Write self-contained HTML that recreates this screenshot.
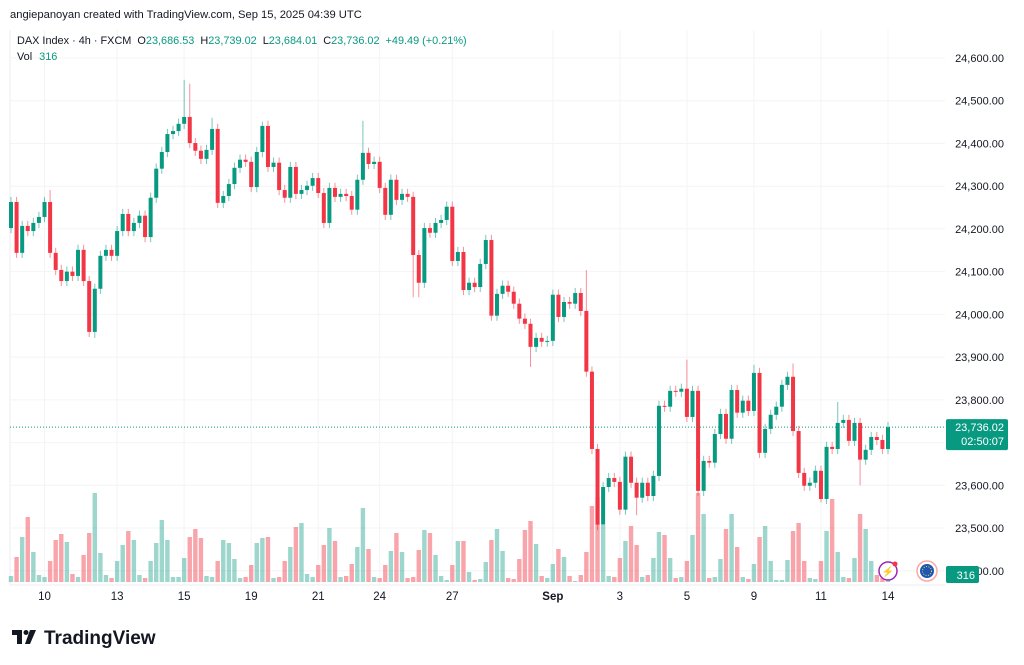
<!DOCTYPE html>
<html><head><meta charset="utf-8">
<style>
html,body{margin:0;padding:0;background:#fff;width:1024px;height:665px;overflow:hidden;font-family:"Liberation Sans",sans-serif;}
svg{position:absolute;left:0;top:0}
</style></head>
<body>
<svg id="chart" width="1024" height="665"></svg>
<script>
const closes=[24263,24144,24207,24195,24214,24228,24263,24144,24104,24078,24100,24090,24151,24078,23959,24060,24137,24151,24137,24195,24235,24195,24214,24231,24181,24273,24341,24380,24422,24429,24446,24462,24401,24383,24364,24385,24434,24261,24277,24305,24343,24362,24357,24298,24380,24441,24345,24355,24291,24273,24345,24282,24291,24301,24319,24284,24214,24296,24275,24282,24277,24245,24315,24378,24352,24357,24296,24233,24315,24268,24282,24275,24139,24074,24202,24191,24214,24221,24252,24125,24146,24057,24074,24064,24118,24174,23997,24048,24067,24053,24025,23990,23978,23924,23945,23936,23938,24046,23994,24029,24025,24050,24008,23866,23685,23508,23596,23617,23608,23543,23667,23606,23571,23606,23575,23622,23786,23784,23821,23819,23826,23760,23821,23587,23657,23653,23720,23767,23709,23823,23770,23798,23774,23863,23676,23732,23765,23784,23835,23854,23727,23629,23599,23606,23634,23568,23690,23685,23746,23753,23704,23746,23660,23683,23713,23706,23685,23736];
const opens=[24202].concat(closes.slice(0,-1));
const volumes=[6,25,45,65,30,7,5,21,42,48,40,8,5,27,49,89,29,7,4,21,37,51,42,7,4,21,39,62,42,5,5,24,45,53,44,6,5,21,42,39,23,4,5,17,39,44,45,4,5,21,35,55,59,8,5,17,37,54,41,5,6,18,35,74,33,5,4,17,31,49,30,4,5,32,52,49,27,6,2,17,41,41,10,2,3,20,42,53,31,4,3,23,52,61,38,6,4,18,33,25,6,1,7,30,76,85,57,6,5,24,41,56,37,5,7,24,50,47,24,4,5,21,47,89,68,4,5,23,53,68,35,5,3,18,45,56,21,2,2,22,51,59,21,4,3,21,51,83,30,5,4,24,68,53,21,7,4,2];
const highOverrides={7:24291,31:24549,32:24540,36:24460,45:24451,63:24453,103:24104,121:23894,133:23882,140:23885,148:23795};
const lowOverrides={14:23947,15:23945,72:24040,73:24040,93:23877,105:23495,106:23520,112:23530,145:23560,152:23600};
const priceTicks=[24600,24500,24400,24300,24200,24100,24000,23900,23800,23700,23600,23500,23400];
const dateLabels=["10","13","15","19","21","24","27","Sep","3","5","9","11","14"];
const dateIndex=[6,19,31,43,55,66,79,97,109,121,133,145,157];

const svg=document.getElementById('chart');
const NS='http://www.w3.org/2000/svg';
const X0=11,DX=(888-11)/157;
function xs(i){return X0+i*DX;}
function ys(v){return 58+(24600-v)*0.4273;}
function vy(v){return 582-v;}
function mk(tag,attrs,parent){const e=document.createElementNS(NS,tag);for(const k in attrs)e.setAttribute(k,attrs[k]);(parent||svg).appendChild(e);return e;}
function txt(s,attrs,parent){const e=mk('text',attrs,parent);e.textContent=s;return e;}

const grid=mk('g',{});


priceTicks.forEach(v=>{const y=ys(v);if(y<585)mk('line',{x1:10,x2:945,y1:y,y2:y,stroke:'#f3f4f6','stroke-width':1},grid);});
dateIndex.forEach(i=>{const x=xs(i);mk('line',{x1:x,x2:x,y1:30,y2:585,stroke:'#f3f4f6','stroke-width':1},grid);});
mk('line',{x1:10,x2:10,y1:30,y2:585,stroke:'#eceef1'},grid);
mk('line',{x1:10,x2:945,y1:585,y2:585,stroke:'#eceef1'},grid);

const vg=mk('g',{});


volumes.forEach((v,i)=>{const up=closes[i]>=opens[i];
 const r=mk('rect',{x:xs(i)-2.2,y:vy(v),width:4.4,height:v,fill:up?'rgba(8,153,129,0.4)':'rgba(242,54,69,0.45)'},vg);
 
 
});

const cg=mk('g',{});


closes.forEach((c,i)=>{const o=opens[i];const up=c>=o;const col=up?'#089981':'#F23645';
 const hi=highOverrides[i]!==undefined?highOverrides[i]:Math.max(o,c)+12;
 const lo=lowOverrides[i]!==undefined?lowOverrides[i]:Math.min(o,c)-12;
 const x=xs(i);
 const g=mk('g',{},cg);
 
 
 mk('line',{x1:x,x2:x,y1:ys(hi),y2:ys(lo),stroke:col,'stroke-opacity':0.55,'stroke-width':1},g);
 const yt=ys(Math.max(o,c)),yb=ys(Math.min(o,c));
 mk('rect',{x:x-2,y:yt,width:4,height:Math.max(1,yb-yt),fill:col},g);
});

const lp=mk('line',{x1:10,x2:945,y1:ys(closes[closes.length-1]),y2:ys(closes[closes.length-1]),stroke:'#089981','stroke-dasharray':'1,2','stroke-width':1});



const pa=mk('g',{});


priceTicks.forEach(v=>{const y=ys(v);if(y>50&&y<575){const t=txt(v.toLocaleString('en-US')+'.00',{x:1004,y:y+4,'text-anchor':'end','font-size':11,fill:'#131722'},pa);
 
 }});
const lyv=ys(closes[closes.length-1]);
const pb=mk('g',{});


mk('rect',{x:946,y:lyv-8,width:62,height:31,rx:2,fill:'#089981'},pb);
txt('23,736.02',{x:1004,y:lyv+4,'text-anchor':'end','font-size':11,fill:'#fff'},pb);
txt('02:50:07',{x:1004,y:lyv+18,'text-anchor':'end','font-size':11,fill:'#fff'},pb);
const vb=mk('g',{});


mk('rect',{x:946,y:566,width:33,height:17,rx:2,fill:'#089981'},vb);
txt('316',{x:975,y:579,'text-anchor':'end','font-size':11,fill:'#fff'},vb);

const ta=mk('g',{});


dateLabels.forEach((s,k)=>{const t=txt(s,{x:xs(dateIndex[k]),y:600,'text-anchor':'middle','font-size':11.5,fill:'#131722','font-weight':s==='Sep'?'bold':'normal'},ta);
 
 });

const ic1=mk('g',{});


mk('circle',{cx:888,cy:571,r:9,fill:'#fff',stroke:'#9c27b0','stroke-width':1.5},ic1);
txt('⚡',{x:888,y:575,'text-anchor':'middle','font-size':10,fill:'#9c27b0'},ic1);
mk('circle',{cx:895,cy:564,r:2.5,fill:'#f23645'},ic1);
const ic2=mk('g',{});


mk('circle',{cx:927,cy:571,r:10,fill:'#fff',stroke:'#f7a9a7','stroke-width':1.5},ic2);
mk('circle',{cx:927,cy:571,r:7,fill:'#1e56b3'},ic2);
mk('circle',{cx:927,cy:571,r:4.5,fill:'none',stroke:'#f5d742','stroke-width':1,'stroke-dasharray':'1,1.5'},ic2);

const h=txt('angiepanoyan created with TradingView.com, Sep 15, 2025 04:39 UTC',{x:10,y:18,'font-size':11.2,fill:'#131722'});


const lg=mk('text',{x:17,y:44,'font-size':10.9,fill:'#131722'});


lg.innerHTML='DAX Index · 4h · FXCM  <tspan dx="3">O</tspan><tspan fill="#089981">23,686.53</tspan><tspan dx="6">H</tspan><tspan fill="#089981">23,739.02</tspan><tspan dx="6">L</tspan><tspan fill="#089981">23,684.01</tspan><tspan dx="6">C</tspan><tspan fill="#089981">23,736.02</tspan><tspan dx="6" fill="#089981">+49.49 (+0.21%)</tspan>';
const vl=mk('text',{x:17,y:60,'font-size':10.9,fill:'#131722'});


vl.innerHTML='Vol <tspan dx="4" fill="#089981">316</tspan>';

const lo=mk('g',{});


mk('path',{d:'M12 630h10v14h-5v-9h-5z',fill:'#131722'},lo);
mk('circle',{cx:26,cy:632.5,r:2.5,fill:'#131722'},lo);
mk('path',{d:'M30 630h6l-6 14h-5z',fill:'#131722'},lo);
txt('TradingView',{x:44,y:644,'font-size':19,'font-weight':'bold',fill:'#131722'},lo);
</script>
</body></html>
